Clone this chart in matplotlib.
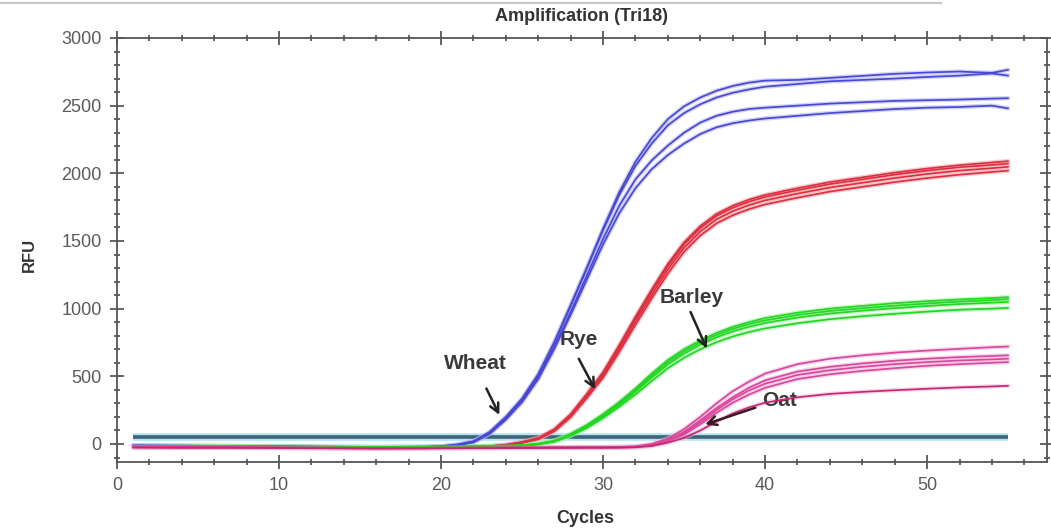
import matplotlib
matplotlib.use("Agg")
import matplotlib.pyplot as plt
from matplotlib.lines import Line2D
from matplotlib.ticker import MultipleLocator

plt.rcParams["font.family"] = ["Liberation Sans", "DejaVu Sans"]

# Amplification cycles at which RFU was read
cycles = [1, 4, 7, 10, 13, 16, 19, 20, 21, 22, 23, 24, 25, 26, 27, 28, 29, 30,
          31, 32, 33, 34, 35, 36, 37, 38, 39, 40, 42, 44, 46, 48, 50, 52, 54, 55]

# RFU per replicate
wheat = [
    [-12, -14, -16, -18, -22, -24, -22, -18, -6, 18, 85, 195, 330, 510, 750, 1020, 1300, 1590,
     1860, 2085, 2260, 2400, 2495, 2560, 2610, 2645, 2670, 2685, 2690, 2705, 2720, 2735, 2745, 2752, 2742, 2765],
    [-10, -12, -15, -17, -20, -22, -20, -16, -4, 20, 88, 200, 335, 515, 755, 1025, 1300, 1580,
     1840, 2055, 2220, 2355, 2445, 2510, 2560, 2595, 2620, 2640, 2660, 2680, 2690, 2700, 2712, 2722, 2738, 2722],
    [-14, -16, -18, -20, -24, -26, -24, -20, -8, 14, 78, 185, 315, 490, 720, 975, 1245, 1515,
     1760, 1955, 2095, 2205, 2300, 2375, 2425, 2455, 2475, 2485, 2500, 2515, 2525, 2535, 2540, 2545, 2552, 2555],
    [-16, -18, -20, -22, -26, -28, -26, -22, -10, 12, 75, 180, 310, 480, 705, 955, 1215, 1475,
     1705, 1890, 2030, 2135, 2220, 2290, 2340, 2370, 2390, 2405, 2425, 2445, 2460, 2475, 2485, 2490, 2500, 2480],
]
rye = [
    [-18, -20, -20, -22, -24, -25, -24, -22, -20, -18, -15, -5, 15, 45, 110, 220, 370, 530,
     730, 940, 1140, 1330, 1490, 1610, 1700, 1760, 1805, 1840, 1890, 1935, 1970, 2005, 2035, 2060, 2080, 2090],
    [-20, -22, -22, -24, -26, -27, -26, -24, -22, -20, -17, -8, 12, 40, 105, 212, 360, 520,
     718, 925, 1125, 1315, 1475, 1595, 1685, 1745, 1790, 1825, 1875, 1920, 1955, 1990, 2020, 2045, 2062, 2072],
    [-22, -24, -24, -26, -28, -29, -28, -26, -24, -22, -19, -10, 10, 38, 100, 205, 350, 505,
     700, 905, 1100, 1290, 1450, 1570, 1660, 1720, 1765, 1800, 1850, 1895, 1930, 1965, 1995, 2020, 2038, 2048],
    [-24, -26, -26, -28, -30, -31, -30, -28, -26, -24, -21, -12, 8, 35, 95, 198, 340, 490,
     680, 880, 1075, 1260, 1420, 1540, 1630, 1690, 1735, 1770, 1820, 1865, 1900, 1935, 1965, 1990, 2010, 2020],
]
barley = [
    [-14, -16, -16, -18, -20, -22, -20, -18, -17, -16, -15, -12, -8, 2, 25, 75, 140, 220,
     310, 410, 520, 620, 700, 765, 820, 865, 900, 930, 970, 1000, 1020, 1040, 1055, 1068, 1078, 1085],
    [-16, -18, -18, -20, -22, -24, -22, -20, -19, -18, -17, -14, -10, 0, 22, 70, 133, 212,
     300, 398, 505, 605, 685, 750, 805, 850, 885, 913, 953, 983, 1003, 1022, 1038, 1052, 1063, 1070],
    [-18, -20, -20, -22, -24, -26, -24, -22, -21, -20, -19, -16, -12, -2, 20, 66, 127, 204,
     290, 386, 490, 588, 668, 733, 788, 832, 866, 894, 934, 964, 985, 1004, 1020, 1034, 1044, 1050],
    [-20, -22, -22, -24, -26, -28, -26, -24, -23, -22, -21, -18, -14, -4, 17, 60, 118, 192,
     275, 366, 465, 560, 637, 700, 752, 794, 827, 854, 892, 922, 944, 962, 978, 992, 1000, 1005],
]
oat = [
    [-20, -22, -22, -24, -26, -28, -27, -26, -26, -25, -25, -24, -24, -24, -23, -23, -22, -22,
     -21, -18, 0, 40, 110, 200, 300, 390, 460, 520, 590, 630, 655, 675, 690, 703, 715, 720],
    [-22, -24, -24, -26, -28, -30, -29, -28, -28, -27, -27, -26, -26, -26, -25, -25, -24, -24,
     -23, -20, -5, 30, 90, 175, 265, 345, 415, 470, 535, 570, 595, 615, 630, 642, 650, 655],
    [-24, -26, -26, -28, -30, -32, -31, -30, -30, -29, -29, -28, -28, -28, -27, -27, -26, -26,
     -25, -22, -8, 25, 80, 160, 250, 330, 395, 445, 510, 545, 570, 590, 605, 617, 625, 630],
    [-26, -28, -28, -30, -32, -34, -33, -32, -32, -31, -31, -30, -30, -30, -29, -29, -28, -28,
     -27, -24, -10, 20, 70, 145, 230, 305, 365, 415, 480, 515, 540, 560, 578, 590, 600, 605],
    [-25, -27, -27, -29, -31, -33, -32, -31, -31, -30, -30, -29, -29, -29, -28, -28, -27, -27,
     -26, -24, -15, 10, 45, 100, 165, 225, 270, 305, 345, 370, 385, 397, 408, 418, 425, 430],
]
threshold = 50

# (halo colour, core colour) per sample
styles = {
    "wheat": ("#b0b0f2", "#4848d4"),
    "rye": ("#f4a0a8", "#dc3040"),
    "barley": ("#9cf09c", "#22d622"),
    "oat": ("#f6b4dc", "#d8489a"),
}

fig = plt.figure(figsize=(10.51, 5.29), dpi=100)
ax = fig.add_axes([0.1113, 0.1267, 0.8849, 0.8015])

# threshold line
ax.plot([cycles[0], cycles[-1]], [threshold, threshold], color="#b4e4f4", lw=5.5,
        solid_capstyle="butt", zorder=2)
ax.plot([cycles[0], cycles[-1]], [threshold, threshold], color="#3e6478", lw=2.6,
        solid_capstyle="butt", zorder=2.1)

for name, group in [("wheat", wheat), ("rye", rye), ("barley", barley), ("oat", oat)]:
    halo, core = styles[name]
    for i, rfu in enumerate(group):
        c = core
        if name == "oat" and i == len(group) - 1:
            c = "#c42870"
        ax.plot(cycles, rfu, color=halo, lw=3.2, alpha=0.55, zorder=3,
                solid_capstyle="round")
        ax.plot(cycles, rfu, color=c, lw=1.25, zorder=3.5, solid_capstyle="round")

ax.set_xlim(0, 57.4)
ax.set_ylim(-133, 3000)

ax.xaxis.set_major_locator(MultipleLocator(10))
ax.xaxis.set_minor_locator(MultipleLocator(2))
ax.yaxis.set_major_locator(MultipleLocator(500))
ax.yaxis.set_minor_locator(MultipleLocator(100))
ax.tick_params(which="both", direction="inout", top=True, right=True,
               colors="#3a3a3a", labelcolor="#5a5a5a", labelsize=13, width=1.1)
ax.tick_params(which="major", length=10, pad=6)
ax.tick_params(which="minor", length=5)
ax.tick_params(axis="x", which="both", labeltop=False)
ax.tick_params(axis="y", which="both", labelright=False)
for s in ax.spines.values():
    s.set_color("#555555")
    s.set_linewidth(1.3)

ax.set_title("Amplification (Tri18)", fontsize=13, fontweight="bold", color="#333333", pad=12)
ax.set_xlabel("Cycles", fontsize=13, fontweight="bold", color="#333333")
ax.set_ylabel("RFU", fontsize=12, fontweight="bold", color="#333333")
ax.xaxis.set_label_coords(0.503, -0.113)
ax.yaxis.set_label_coords(-0.086, 0.488)

arrow = dict(arrowstyle="->", color="#222222", lw=1.8, mutation_scale=16,
             shrinkA=0, shrinkB=0)
txt = dict(fontsize=15, fontweight="bold", color="#3a3a3a", ha="center", va="center")
ax.annotate("", xy=(23.6, 215), xytext=(22.8, 410), arrowprops=arrow, zorder=5)
ax.text(22.1, 595, "Wheat", **txt)
ax.annotate("", xy=(29.5, 405), xytext=(28.5, 630), arrowprops=arrow, zorder=5)
ax.text(28.5, 770, "Rye", **txt)
ax.annotate("", xy=(36.4, 705), xytext=(35.4, 975), arrowprops=arrow, zorder=5)
ax.text(35.5, 1080, "Barley", **txt)
ax.annotate("", xy=(36.3, 145), xytext=(39.4, 268),
            arrowprops=dict(arrow, color="#3a1a22"), zorder=5)
ax.text(40.9, 320, "Oat", **txt)

# thin grey rule across the top of the figure
fig.add_artist(Line2D([0.0, 0.895], [0.995, 0.995], color="#c8c8c8", lw=1.6))

fig.savefig("out.png", dpi=100)
